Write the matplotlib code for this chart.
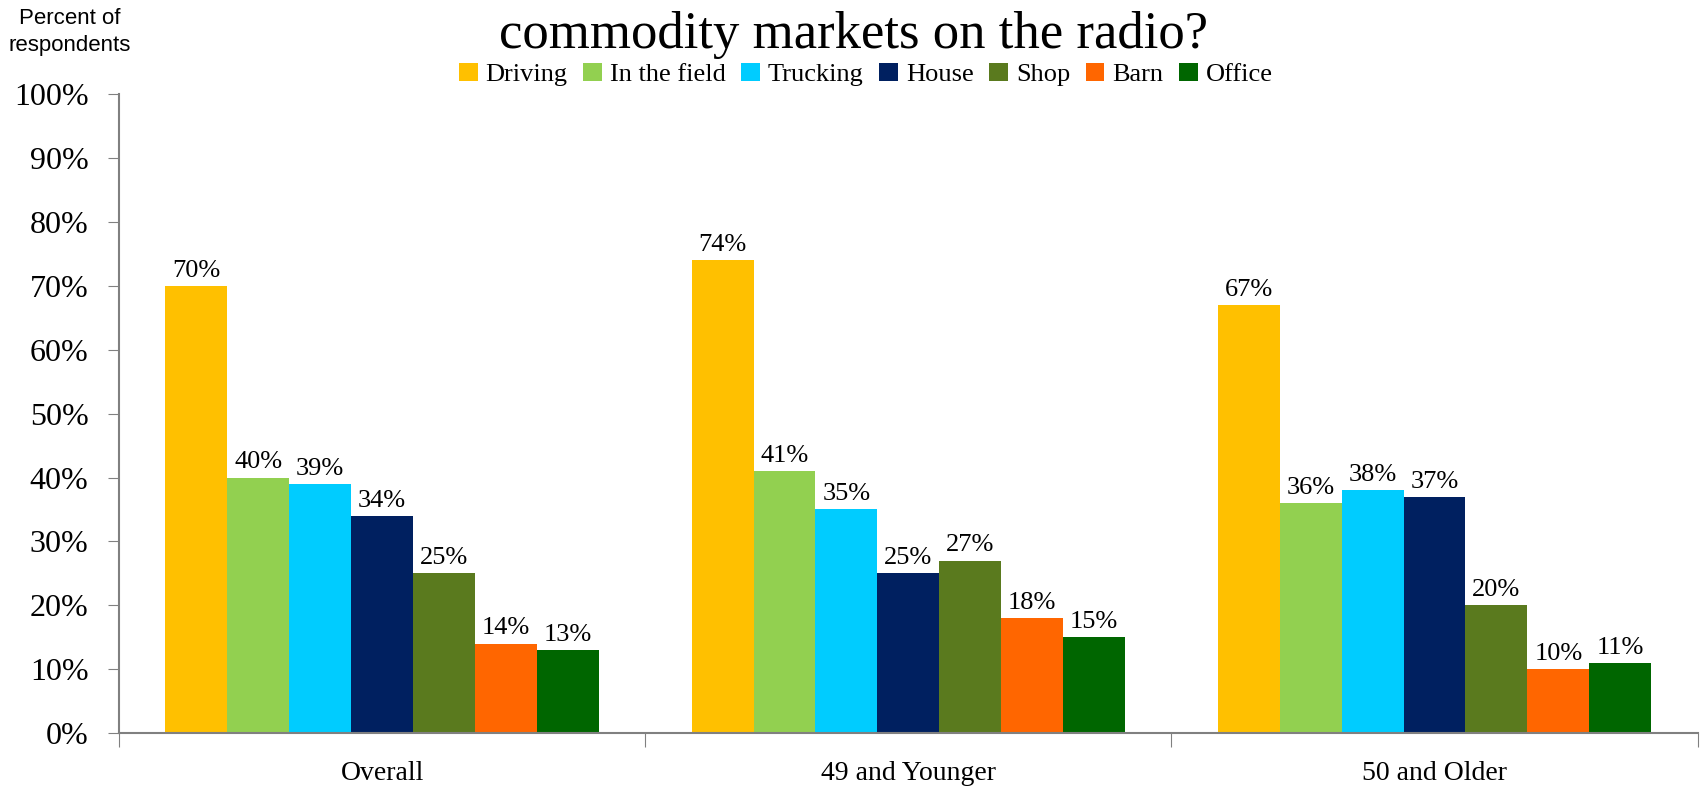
import numpy as np
import matplotlib.pyplot as plt
from matplotlib.ticker import PercentFormatter

# 集計データ
groups = ["Overall", "49 and Younger", "50 and Older"]
locations = ["Driving", "In the field", "Trucking", "House", "Shop", "Barn", "Office"]
driving = [70, 74, 67]
in_field = [40, 41, 36]
trucking = [39, 35, 38]
house = [34, 25, 37]
shop = [25, 27, 20]
barn = [14, 18, 10]
office = [13, 15, 11]
series = [driving, in_field, trucking, house, shop, barn, office]
colors = ["#FFC000", "#92D050", "#00CCFF", "#002060", "#5A7A1E", "#FF6600", "#006600"]

serif = ["Liberation Serif", "DejaVu Serif"]
plt.rcParams["font.family"] = serif

fig = plt.figure(figsize=(17.01, 7.86), dpi=100)
ax = fig.add_axes([0.070, 0.0674, 0.928, 0.8126])

x = np.arange(len(groups))
w = 0.1177
for k, (vals, col, name) in enumerate(zip(series, colors, locations)):
    pos = x + (k - 3) * w
    bars = ax.bar(pos, vals, width=w, color=col, label=name, edgecolor="none")
    for b, v in zip(bars, vals):
        ax.annotate(f"{v}%", (b.get_x() + b.get_width() / 2, v),
                    xytext=(0, 3), textcoords="offset points",
                    ha="center", va="bottom", fontsize=19)

ax.set_xlim(-0.5, 2.5)
ax.set_ylim(0, 100)
ax.yaxis.set_major_formatter(PercentFormatter(decimals=0))
ax.set_yticks(np.arange(0, 101, 10))
ax.tick_params(axis="y", labelsize=23, length=8, color="#808080", pad=14)

# カテゴリ境界に目盛り線
ax.set_xticks([-0.5, 0.5, 1.5, 2.5])
ax.set_xticklabels([])
ax.set_xticks(x, minor=True)
ax.set_xticklabels(groups, minor=True, fontsize=20)
ax.tick_params(axis="x", which="major", length=10, color="#808080")
ax.tick_params(axis="x", which="minor", length=0, pad=20)

for s in ["top", "right"]:
    ax.spines[s].set_visible(False)
for s in ["left", "bottom"]:
    ax.spines[s].set_color("#808080")
    ax.spines[s].set_linewidth(1.5)

fig.text(0.502, 0.955, "commodity markets on the radio?", ha="center", va="center", fontsize=38)
fig.legend(loc="center", bbox_to_anchor=(0.509, 0.905), ncol=7, frameon=False,
           fontsize=19, handlelength=0.7, handleheight=0.7, handletextpad=0.3,
           columnspacing=0.6, borderpad=0)

sans = ["Liberation Sans", "DejaVu Sans"]
fig.text(0.041, 0.977, "Percent of", ha="center", va="center", fontsize=16, family=sans)
fig.text(0.041, 0.942, "respondents", ha="center", va="center", fontsize=16, family=sans)

plt.savefig("out.png", dpi=100)
